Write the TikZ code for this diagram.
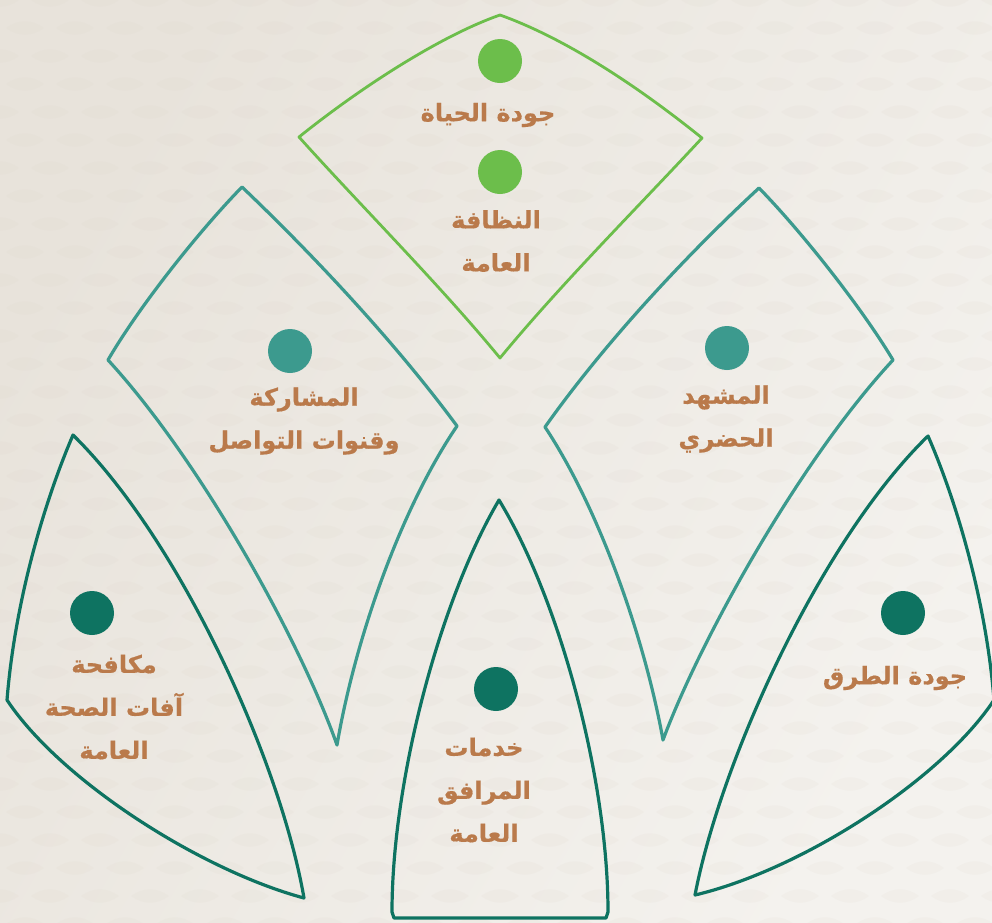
\documentclass[tikz,border=0pt]{standalone}
\usepackage{fontspec}
\newfontfamily\arabicfont[Script=Arabic, BoldFeatures={FakeBold=0.6}]{DejaVu Sans}
\TeXXeTstate=1
\definecolor{bgA}{HTML}{E8E3DB}
\definecolor{bgB}{HTML}{F4F2EE}
\definecolor{lens}{HTML}{DCD3C7}
\definecolor{lgreen}{HTML}{6CBE4B}
\definecolor{teal}{HTML}{3C9A8E}
\definecolor{dgreen}{HTML}{0E7361}
\definecolor{txt}{HTML}{BA7A4B}
\tikzset{
  leaf/.style={line width=3.2pt, line join=round, fill=none},
  dotA/.style={circle, fill=lgreen, minimum size=44pt, inner sep=0pt},
  dotB/.style={circle, fill=teal, minimum size=44pt, inner sep=0pt},
  dotC/.style={circle, fill=dgreen, minimum size=44pt, inner sep=0pt},
  lbl/.style={text=txt, align=center, inner sep=0pt,
    font=\arabicfont\bfseries\fontsize{24}{43}\selectfont}
}
\begin{document}
\begin{tikzpicture}[x=1pt,y=-1pt]
\useasboundingbox (0,0) rectangle (992,922);
\begin{scope}
\clip (0,0) rectangle (992,922);
% background
\shade[shading=axis, left color=bgA, right color=bgB, shading angle=60] (0,0) rectangle (992,922);
\foreach \j in {0,...,33}{
  \foreach \i in {0,...,20}{
    \pgfmathsetmacro{\xx}{\i*50 + mod(\j,2)*25}
    \pgfmathsetmacro{\yy}{\j*28}
    \fill[lens, opacity=0.12] (\xx-19,\yy) .. controls (\xx-7,\yy-9) and (\xx+7,\yy-9) .. (\xx+19,\yy)
       .. controls (\xx+7,\yy+9) and (\xx-7,\yy+9) .. (\xx-19,\yy) -- cycle;
  }
}
% top diamond
\draw[leaf, lgreen, line width=2.8pt] (299,137) .. controls (360,88) and (440,36) .. (500,15)
  .. controls (570,40) and (645,92) .. (702,138)
  .. controls (640,205) and (560,285) .. (500,358)
  .. controls (440,285) and (360,205) .. (299,137) -- cycle;
% left teal
\draw[leaf, teal] (242,187) .. controls (308,250) and (392,338) .. (457,426)
  .. controls (400,510) and (355,640) .. (337,745)
  .. controls (300,640) and (200,460) .. (108,360)
  .. controls (140,305) and (200,230) .. (242,187) -- cycle;
% right teal
\draw[leaf, teal] (759,188) .. controls (692,250) and (608,338) .. (545,427)
  .. controls (600,510) and (645,640) .. (663,740)
  .. controls (700,640) and (800,460) .. (893,360)
  .. controls (860,305) and (800,230) .. (759,188) -- cycle;
% left bottom
\draw[leaf, dgreen] (73,435) .. controls (45,500) and (15,600) .. (7,700)
  .. controls (60,780) and (200,870) .. (304,898)
  .. controls (280,760) and (180,540) .. (73,435) -- cycle;
% right bottom
\draw[leaf, dgreen] (928,436) .. controls (956,500) and (986,600) .. (994,700)
  .. controls (941,780) and (801,870) .. (695,895)
  .. controls (721,760) and (821,540) .. (928,436) -- cycle;
% middle bottom
\draw[leaf, dgreen] (499,500) .. controls (560,600) and (608,780) .. (608,912)
  -- (606,918) -- (394,918) -- (392,912)
  .. controls (392,780) and (440,600) .. (499,500) -- cycle;
\end{scope}
% dots
\node[dotA] (d1) at (500,61) {};
\node[dotA] (d2) at (500,172) {};
\node[dotB] (d3) at (290,351) {};
\node[dotB] (d4) at (727,348) {};
\node[dotC] (d5) at (92,613) {};
\node[dotC] (d6) at (496,689) {};
\node[dotC] (d7) at (903,613) {};
% labels
\node[lbl] (t1) at (488,115) {\beginR جودة الحياة\endR};
\node[lbl] (t2) at (496,241) {\beginR النظافة\endR\\\beginR العامة\endR};
\node[lbl] (t3) at (304,421) {\beginR المشاركة\endR\\\beginR وقنوات التواصل\endR};
\node[lbl] (t4) at (726,419) {\beginR المشهد\endR\\\beginR الحضري\endR};
\node[lbl] (t5) at (114,707) {\beginR مكافحة\endR\\\beginR آفات الصحة\endR\\\beginR العامة\endR};
\node[lbl] (t6) at (484,790) {\beginR خدمات\endR\\\beginR المرافق\endR\\\beginR العامة\endR};
\node[lbl] (t7) at (895,678) {\beginR جودة الطرق\endR};
\end{tikzpicture}
\end{document}
